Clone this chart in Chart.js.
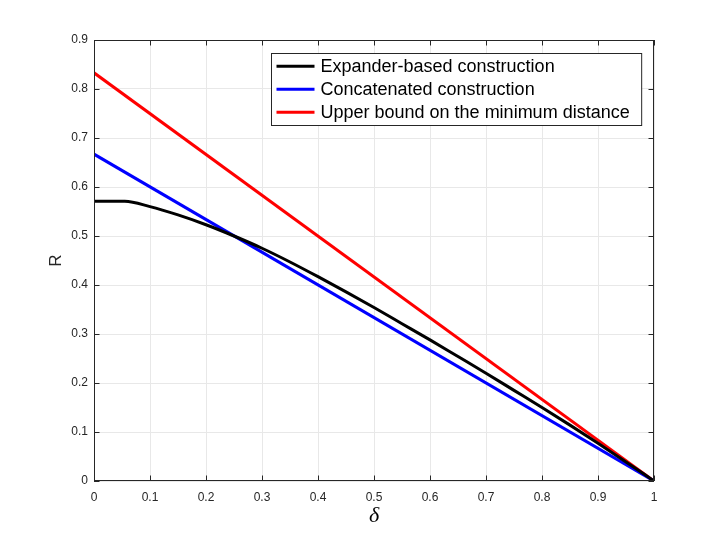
<!DOCTYPE html>
<html>
<head>
<meta charset="utf-8">
<script src="https://cdn.jsdelivr.net/npm/chart.js@4.4.1/dist/chart.umd.min.js"></script>
<style>
  html, body { margin: 0; padding: 0; background: #fff; }
  #wrap { width: 723px; height: 542px; }
</style>
</head>
<body>
<div id="wrap"><canvas id="rateChart"></canvas></div>
<script>
// значення
const expanderDelta = [0, 0.05, 0.055, 0.1, 0.15, 0.2, 0.25, 0.3, 0.35, 0.4, 0.45, 0.5, 0.55, 0.6, 0.65, 0.7, 0.75, 0.8, 0.85, 0.9, 0.95, 1];
const expanderR = [0.571, 0.571, 0.571, 0.560, 0.543, 0.523, 0.500, 0.475, 0.447, 0.417, 0.386, 0.354, 0.321, 0.288, 0.254, 0.220, 0.185, 0.150, 0.114, 0.077, 0.039, 0];
const lineDelta = [0, 1];
const concatenatedR = [0.667, 0];
const upperBoundR = [0.833, 0];
const xTicks = [0, 0.1, 0.2, 0.3, 0.4, 0.5, 0.6, 0.7, 0.8, 0.9, 1];
const yTicks = [0, 0.1, 0.2, 0.3, 0.4, 0.5, 0.6, 0.7, 0.8, 0.9];
const seriesLabels = ['Expander-based construction', 'Concatenated construction', 'Upper bound on the minimum distance'];

const axisColor = '#262626';
const tickFont = { family: 'Liberation Sans, Arial, Helvetica, sans-serif', size: 12 };

function toPoints(xs, ys) {
    return xs.map((x, i) => ({ x: x, y: ys[i] }));
}

// рамка осей та внутрішні засічки, як у MATLAB
const boxPlugin = {
    id: 'boxPlugin',
    afterDatasetsDraw(chart) {
        const { ctx, chartArea: a, scales } = chart;
        ctx.save();
        ctx.strokeStyle = axisColor;
        ctx.lineWidth = 1;
        ctx.strokeRect(a.left + 0.5, a.top + 0.5, a.right - a.left - 1, a.bottom - a.top - 1);
        ctx.beginPath();
        const tl = 5.5;
        xTicks.forEach(v => {
            const px = Math.round(scales.x.getPixelForValue(v)) + 0.5;
            ctx.moveTo(px, a.bottom); ctx.lineTo(px, a.bottom - tl);
            ctx.moveTo(px, a.top); ctx.lineTo(px, a.top + tl);
        });
        yTicks.forEach(v => {
            const py = Math.round(scales.y.getPixelForValue(v)) + 0.5;
            ctx.moveTo(a.left, py); ctx.lineTo(a.left + tl, py);
            ctx.moveTo(a.right, py); ctx.lineTo(a.right - tl, py);
        });
        ctx.stroke();

        // легенда
        ctx.font = '18px Liberation Sans, Arial, Helvetica, sans-serif';
        const textW = Math.max(...seriesLabels.map(s => ctx.measureText(s).width));
        const boxW = 6 + 37 + 6 + textW + 12;
        const boxH = 72;
        const bx = Math.round(a.right - 13 - boxW) + 0.5;
        const by = Math.round(a.top + 13) + 0.5;
        ctx.fillStyle = '#fff';
        ctx.fillRect(bx, by, boxW, boxH);
        ctx.strokeStyle = axisColor;
        ctx.strokeRect(bx, by, boxW, boxH);
        chart.data.datasets.forEach((ds, i) => {
            const ry = by + 12.7 + i * 23;
            ctx.strokeStyle = ds.borderColor;
            ctx.lineWidth = 3;
            ctx.beginPath();
            ctx.moveTo(bx + 5, ry);
            ctx.lineTo(bx + 43, ry);
            ctx.stroke();
            ctx.fillStyle = '#000';
            ctx.textBaseline = 'middle';
            ctx.textAlign = 'left';
            ctx.fillText(ds.label, bx + 49, ry + 1);
        });
        ctx.restore();
    }
};

const bgPlugin = {
    id: 'bgPlugin',
    beforeDraw(chart) {
        const ctx = chart.ctx;
        ctx.save();
        ctx.fillStyle = '#fff';
        ctx.fillRect(0, 0, chart.width, chart.height);
        ctx.restore();
    }
};

const canvas = document.getElementById('rateChart');
new Chart(canvas, {
    type: 'line',
    data: {
        datasets: [
            {
                label: seriesLabels[0],
                data: toPoints(expanderDelta, expanderR),
                borderColor: '#000000',
                borderWidth: 3,
                pointRadius: 0,
                cubicInterpolationMode: 'monotone'
            },
            {
                label: seriesLabels[1],
                data: toPoints(lineDelta, concatenatedR),
                borderColor: '#0000ff',
                borderWidth: 3,
                pointRadius: 0
            },
            {
                label: seriesLabels[2],
                data: toPoints(lineDelta, upperBoundR),
                borderColor: '#ff0000',
                borderWidth: 3,
                pointRadius: 0
            }
        ]
    },
    options: {
        responsive: true,
        maintainAspectRatio: false,
        animation: false,
        events: [],
        layout: { padding: { left: 0, right: 69, top: 40, bottom: 0 } },
        plugins: {
            legend: { display: false },
            tooltip: { enabled: false }
        },
        scales: {
            x: {
                type: 'linear',
                min: 0,
                max: 1,
                afterBuildTicks: s => { s.ticks = xTicks.map(v => ({ value: v })); },
                afterFit: s => { s.height = 61; },
                ticks: {
                    color: axisColor,
                    font: tickFont,
                    padding: 9,
                    maxRotation: 0,
                    callback: v => String(v)
                },
                grid: { color: '#e8e8e8', drawTicks: false },
                border: { display: false },
                title: {
                    display: true,
                    text: 'δ',
                    color: '#000',
                    font: { family: 'Liberation Serif, Times New Roman, serif', size: 22, style: 'italic' },
                    padding: { top: 0, bottom: 13 }
                }
            },
            y: {
                type: 'linear',
                min: 0,
                max: 0.9,
                afterBuildTicks: s => { s.ticks = yTicks.map(v => ({ value: v })); },
                afterFit: s => { s.width = 94; },
                ticks: {
                    color: axisColor,
                    font: tickFont,
                    padding: 6,
                    callback: v => String(v)
                },
                grid: { color: '#e8e8e8', drawTicks: false },
                border: { display: false },
                title: {
                    display: true,
                    text: 'R',
                    color: axisColor,
                    font: { family: 'Liberation Sans, Arial, Helvetica, sans-serif', size: 17 },
                    padding: { top: 46, bottom: 0 }
                }
            }
        }
    },
    plugins: [bgPlugin, boxPlugin]
});
</script>
</body>
</html>
